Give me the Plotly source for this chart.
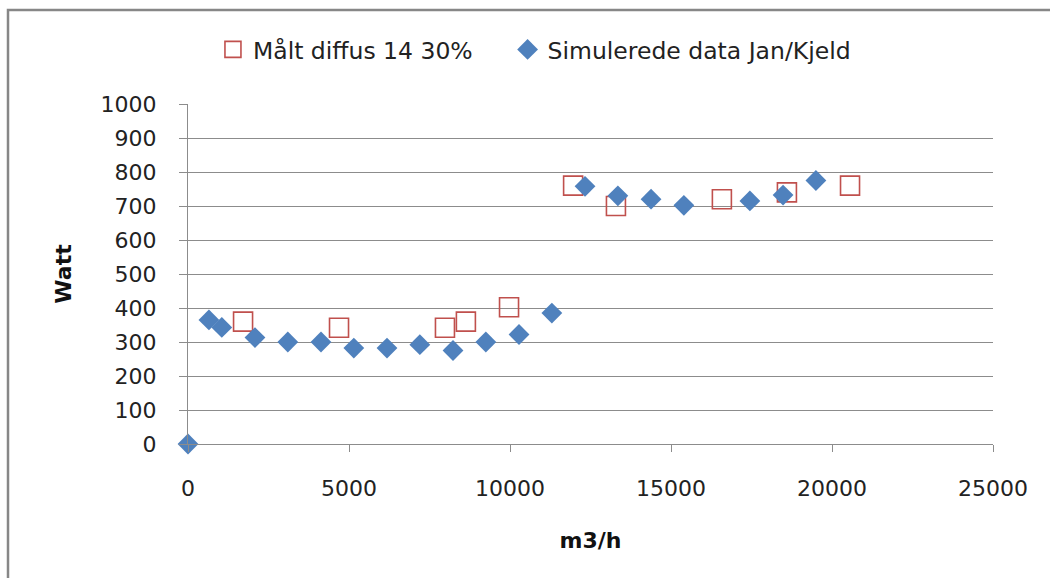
import plotly.graph_objects as go

# Measured data (Målt diffus 14 30%)
maalt_x = [1710, 4690, 7980, 8630, 9970, 11960, 13290, 16580, 18600, 20560]
maalt_y = [360, 342, 342, 360, 402, 760, 700, 720, 740, 760]

# Simulated data (Simulerede data Jan/Kjeld)
sim_x = [0, 650, 1050, 2080, 3100, 4130, 5150, 6180, 7200, 8230,
         9250, 10280, 11300, 12330, 13350, 14380, 15400, 17450, 18480, 19500]
sim_y = [0, 365, 343, 313, 300, 300, 282, 282, 292, 275,
         300, 322, 385, 758, 730, 720, 702, 715, 732, 775]

series_names = ["Målt diffus 14 30%", "Simulerede data Jan/Kjeld"]
x_title = "m3/h"
y_title = "Watt"

RED = "#C0504D"
BLUE = "#4F81BD"
GRID = "#8C8C8C"
FONT = "DejaVu Sans"

fig = go.Figure()
fig.add_trace(go.Scatter(
    x=maalt_x, y=maalt_y, mode="markers", name=series_names[0],
    marker=dict(symbol="square-open", size=19, color=RED, line=dict(width=1.6, color=RED)),
    cliponaxis=False, legend="legend",
))
fig.add_trace(go.Scatter(
    x=sim_x, y=sim_y, mode="markers", name=series_names[1],
    marker=dict(symbol="diamond", size=16, color=BLUE, line=dict(width=0)),
    cliponaxis=False, legend="legend2",
))

legend_common = dict(
    orientation="h", y=1.16, yanchor="middle",
    font=dict(family=FONT, size=23.5, color="#222222"),
    bgcolor="rgba(0,0,0,0)", itemclick=False,
)

fig.update_layout(
    width=1050, height=578,
    margin=dict(l=188, r=57, t=104, b=134),
    paper_bgcolor="white", plot_bgcolor="white",
    font=dict(family=FONT, size=22, color="#222222"),
    showlegend=True,
    legend=dict(x=0.031, xanchor="left", **legend_common),
    legend2=dict(x=0.397, xanchor="left", **legend_common),
    xaxis=dict(
        range=[0, 25000], dtick=5000, tick0=0, tickformat="d", showgrid=False, zeroline=False,
        showline=True, linecolor=GRID, linewidth=1,
        ticks="outside", ticklen=7, tickcolor=GRID,
        tickfont=dict(family=FONT, size=22, color="#222222"),
        ticklabelstandoff=18,
        title=dict(text=x_title, font=dict(family=FONT, size=22, color="#111111", weight="bold"), standoff=32),
        automargin=False,
    ),
    yaxis=dict(
        range=[0, 1000], dtick=100, tick0=0, showgrid=True, gridcolor=GRID, gridwidth=1,
        zeroline=False, showline=True, linecolor=GRID, linewidth=1,
        ticks="outside", ticklen=8, tickcolor=GRID,
        tickfont=dict(family=FONT, size=22, color="#222222"),
        ticklabelstandoff=18,
        title=dict(text=y_title, font=dict(family=FONT, size=22, color="#111111", weight="bold"), standoff=22),
        automargin=False,
    ),
    shapes=[dict(
        type="rect", xref="paper", yref="paper",
        x0=-0.2236, x1=1.09, y0=-0.45, y1=1.2765,
        line=dict(color="#878787", width=2.5), fillcolor="rgba(0,0,0,0)", layer="below",
    )],
)

fig.write_html("out.html")
